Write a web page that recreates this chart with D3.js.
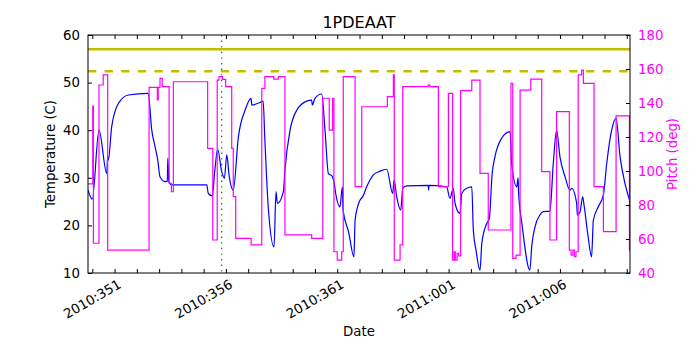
<!DOCTYPE html>
<html>
<head>
<meta charset="utf-8">
<script src="https://cdn.jsdelivr.net/npm/d3@7"></script>
<style>
  body { margin: 0; background: #fff; }
  svg text { font-family: "DejaVu Sans", sans-serif; }
</style>
</head>
<body>
<script>
// day numbers run on from 2010 (2011:001 = 366)
const tempDay = [350.81, 351.00, 351.30, 351.65, 351.69, 351.72, 351.87, 352.17, 352.62, 353.51,
  353.67, 353.82, 353.94, 354.04, 354.26, 354.37, 354.39, 354.44, 354.59, 356.14,
  356.21, 356.39, 356.50, 356.63, 356.81, 356.93, 357.04, 357.14, 357.33, 357.56,
  357.86, 358.13, 358.16, 358.62, 358.67, 358.75, 358.90, 359.16, 359.25, 359.31,
  359.58, 359.65, 359.88, 360.18, 360.63, 360.85, 360.88, 361.00, 361.30, 361.45,
  361.60, 361.76, 361.85, 361.94, 362.12, 362.23, 362.26, 362.51, 362.75, 362.80,
  363.02, 363.14, 363.32, 363.62, 363.92, 364.22, 364.49, 364.55, 364.67, 364.85,
  364.94, 365.12, 366.09, 366.10, 366.12, 366.91, 367.06, 367.21, 367.29, 367.51,
  367.59, 367.81, 368.04, 368.11, 368.23, 368.41, 368.49, 368.71, 368.83, 368.95,
  369.08, 369.38, 369.76, 369.83, 370.06, 370.12, 370.14, 370.30, 370.65, 370.73,
  370.88, 371.10, 371.25, 371.55, 371.70, 371.85, 372.00, 372.23, 372.45, 372.53,
  372.75, 372.78, 372.90, 373.02, 373.08, 373.26, 373.42, 373.50, 373.72, 373.95,
  374.10, 374.32, 374.52, 374.70, 374.92, 375.14];
const tempVal = [27.4, 25.5, 40.0, 30.9, 34.6, 33.7, 40.7, 45.6, 47.4, 47.75,
  40.0, 36.5, 33.7, 30.2, 29.2, 29.3, 34.1, 29.1, 28.5, 28.5,
  26.7, 26.2, 31.5, 36.0, 31.3, 29.9, 34.8, 30.6, 27.4, 38.6,
  44.2, 46.7, 45.3, 46.0, 46.1, 37.9, 23.9, 15.5, 27.1, 24.6,
  27.1, 31.6, 40.0, 44.2, 46.1, 46.3, 45.3, 46.7, 47.6, 40.0,
  30.9, 30.4, 29.2, 26.4, 23.9, 28.1, 23.2, 18.6, 13.4, 21.1,
  25.3, 26.0, 28.1, 30.6, 31.4, 31.8, 26.7, 29.5, 26.0, 23.2,
  27.8, 28.3, 28.4, 27.4, 28.4, 28.1, 25.7, 27.8, 24.6, 22.5,
  26.7, 27.8, 28.1, 19.0, 14.8, 10.6, 16.2, 20.4, 21.5, 30.6,
  34.4, 38.3, 39.7, 33.0, 28.1, 30.0, 27.0, 20.1, 10.6, 15.5,
  19.7, 22.2, 22.9, 23.0, 33.0, 40.0, 34.4, 30.2, 27.4, 27.8,
  24.6, 22.2, 22.8, 26.0, 24.3, 17.8, 13.4, 21.1, 23.9, 26.4,
  33.0, 40.0, 42.5, 34.4, 28.8, 25.1];

const pitchDay = [350.81, 351.02, 351.05, 351.30, 351.49, 351.69, 353.55, 353.92, 353.96, 354.04,
  354.14, 354.45, 354.55, 354.64, 356.18, 356.41, 356.61, 356.69, 356.84, 356.99,
  357.26, 357.33, 357.44, 358.13, 358.61, 358.75, 359.15, 359.35, 359.65, 360.85,
  361.35, 361.64, 361.79, 361.85, 362.00, 362.20, 362.27, 362.80, 363.10, 364.25,
  364.52, 364.56, 364.82, 364.94, 366.09, 366.16, 366.54, 366.99, 367.18, 367.25,
  367.30, 367.38, 367.45, 367.54, 368.04, 368.41, 368.78, 369.80, 369.88, 370.03,
  370.21, 370.69, 371.18, 371.55, 371.85, 372.42, 372.50, 372.58, 372.65, 372.72,
  372.82, 372.97, 373.05, 373.53, 373.95, 374.52, 375.12, 375.14];
const pitchVal = [92.4, 138.2, 57.5, 150.6, 156.5, 53.5, 149.2, 141.8, 149.2, 154.5,
  149.6, 92.8, 87.8, 152.5, 113.3, 59.4, 153.5, 155.5, 153.9, 149.6,
  113.3, 84.9, 60.4, 56.5, 148.6, 155.5, 154.0, 155.5, 62.4, 60.4,
  142.8, 124.1, 142.8, 52.5, 47.6, 52.5, 155.5, 90.8, 137.8, 143.7,
  156.5, 47.6, 56.5, 149.6, 150.6, 149.6, 90.8, 145.7, 47.6, 52.5,
  47.6, 51.5, 50.0, 147.3, 153.5, 98.6, 65.3, 151.6, 48.6, 50.5,
  147.6, 154.0, 99.6, 59.4, 134.9, 53.5, 50.5, 53.5, 49.6, 52.5,
  156.5, 159.4, 151.6, 90.8, 64.3, 132.4, 53.5, 53.5];

const planningLimit = 57.0;
const cautionLimit = 52.4;
const nowDay = 356.81;

const tempTicks = [10, 20, 30, 40, 50, 60];
const pitchTicks = [40, 60, 80, 100, 120, 140, 160, 180];
const labelDays = [351, 356, 361, 366, 371];

const width = 700, height = 350;
const plotL = 88, plotR = 630, plotT = 35, plotB = 273;

function dayLabel(d) {
  if (d <= 365) return "2010:" + d;
  return "2011:" + String(d - 365).padStart(3, "0");
}

const svg = d3.select("body").append("svg")
  .attr("width", width)
  .attr("height", height);

const x = d3.scaleLinear().domain([350.807, 375.145]).range([plotL, plotR]);
const yT = d3.scaleLinear().domain([10, 60]).range([plotB, plotT]);
const yP = d3.scaleLinear().domain([40, 180]).range([plotB, plotT]);

svg.append("clipPath").attr("id", "plot")
  .append("rect").attr("x", plotL).attr("y", plotT)
  .attr("width", plotR - plotL).attr("height", plotB - plotT);

let g = svg.append("g").attr("clip-path", "url(#plot)");

// temperature
const tempData = tempDay.map((d, i) => [d, tempVal[i]]);
g.append("path")
  .datum(tempData)
  .attr("fill", "none")
  .attr("stroke", "#0000ff")
  .attr("stroke-width", 1.2)
  .attr("d", d3.line().x(d => x(d[0])).y(d => yT(d[1])).curve(d3.curveMonotoneX));

// limits
g.append("line")
  .attr("x1", plotL).attr("x2", plotR)
  .attr("y1", yT(planningLimit)).attr("y2", yT(planningLimit))
  .attr("stroke", "#bfbf00").attr("stroke-width", 2.6);
g.append("line")
  .attr("x1", plotL).attr("x2", plotR)
  .attr("y1", yT(cautionLimit)).attr("y2", yT(cautionLimit))
  .attr("stroke", "#bfbf00").attr("stroke-width", 2.6)
  .attr("stroke-dasharray", "8.3,8.3");

g.append("line")
  .attr("x1", x(nowDay)).attr("x2", x(nowDay))
  .attr("y1", plotT).attr("y2", plotB)
  .attr("stroke", "#008000").attr("stroke-width", 1.2)
  .attr("stroke-dasharray", "1.4,4.2");

// pitch
const pitchData = pitchDay.map((d, i) => [d, pitchVal[i]]);
g.append("path")
  .datum(pitchData)
  .attr("fill", "none")
  .attr("stroke", "#ff00ff")
  .attr("stroke-width", 1.2)
  .attr("d", d3.line().x(d => x(d[0])).y(d => yP(d[1])).curve(d3.curveStepAfter));

// axes (ticks inside like matplotlib)
const tickDays = d3.range(351, 376);
svg.append("g")
  .attr("transform", "translate(0," + plotB + ")")
  .call(d3.axisBottom(x).tickValues(tickDays).tickSize(-4).tickFormat(""))
  .call(a => a.select(".domain").remove());
svg.append("g")
  .attr("transform", "translate(0," + plotT + ")")
  .call(d3.axisTop(x).tickValues(tickDays).tickSize(-4).tickFormat(""))
  .call(a => a.select(".domain").remove());

svg.selectAll(".xlab")
  .data(labelDays)
  .enter()
  .append("text")
  .attr("class", "xlab")
  .attr("x", d => x(d))
  .attr("y", 299)
  .attr("text-anchor", "middle")
  .attr("dy", "0.35em")
  .attr("font-size", 13.3)
  .attr("transform", d => "rotate(-30," + x(d) + ",299)")
  .text(d => dayLabel(d));

let axL = svg.append("g")
  .attr("transform", "translate(" + plotL + ",0)")
  .call(d3.axisLeft(yT).tickValues(tempTicks).tickSize(-4).tickPadding(8));
axL.select(".domain").remove();
axL.selectAll("text").attr("font-size", 13.3).attr("fill", "#000").style("font-family", "DejaVu Sans");

let axR = svg.append("g")
  .attr("transform", "translate(" + plotR + ",0)")
  .call(d3.axisRight(yP).tickValues(pitchTicks).tickSize(-4).tickPadding(8));
axR.select(".domain").remove();
axR.selectAll("text").attr("font-size", 13.3).attr("fill", "#ff00ff").style("font-family", "DejaVu Sans");

svg.append("rect")
  .attr("x", plotL).attr("y", plotT)
  .attr("width", plotR - plotL).attr("height", plotB - plotT)
  .attr("fill", "none").attr("stroke", "#000").attr("stroke-width", 1);

// labels
svg.append("text")
  .attr("x", (plotL + plotR) / 2).attr("y", 28)
  .attr("text-anchor", "middle").attr("font-size", 16)
  .text("1PDEAAT");
svg.append("text")
  .attr("x", (plotL + plotR) / 2).attr("y", 336)
  .attr("text-anchor", "middle").attr("font-size", 13.3)
  .text("Date");
svg.append("text")
  .attr("transform", "translate(55," + (plotT + plotB) / 2 + ") rotate(-90)")
  .attr("text-anchor", "middle").attr("font-size", 13.3)
  .text("Temperature (C)");
svg.append("text")
  .attr("transform", "translate(677," + (plotT + plotB) / 2 + ") rotate(-90)")
  .attr("text-anchor", "middle").attr("font-size", 13.3)
  .attr("fill", "#ff00ff")
  .text("Pitch (deg)");
</script>
</body>
</html>
